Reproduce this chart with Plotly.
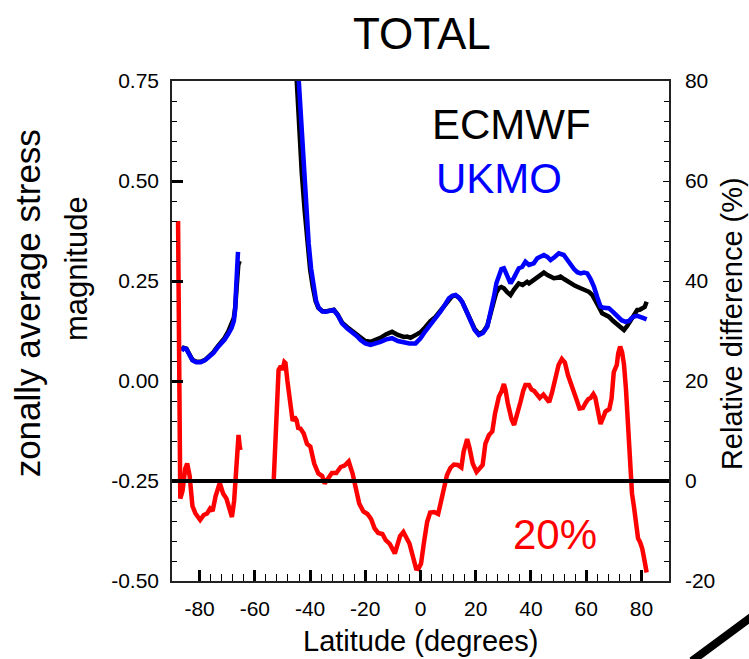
import plotly.graph_objects as go

# ---------------- data ----------------
# ECMWF zonally averaged stress magnitude (left axis)
ecmwf_lat = [-86.5, -85.8, -84.8, -83.8, -82.6, -81.2, -79.6, -78.0, -76.4, -75.0, -73.6, -72.3,
             -71.0, -69.6, -68.6, -67.6, -67.1, -66.6, -66.0, -65.5,
             None,
             -46.0, -44.9, -43.9, -43.0, -42.0, -41.0, -40.0, -39.0, -38.0, -37.0, -35.6, -34.4,
             -33.0, -31.4, -30.0, -28.4, -26.6, -24.7, -23.0, -21.7, -20.0, -18.1, -16.3, -14.5,
             -12.4, -10.3, -8.2, -6.0, -4.8, -3.6, -1.5, 0.0, 1.8, 3.6, 5.4, 7.2, 8.8, 10.3,
             11.5, 12.7, 14.0, 15.1, 16.6, 18.1, 19.6, 21.1, 22.6, 24.2, 25.4, 26.6, 27.5, 28.4,
             29.3, 30.2, 31.4, 32.6, 33.8, 35.6, 37.0, 38.6, 39.3, 41.0, 42.3, 43.5, 44.7, 46.0,
             47.1, 48.3, 49.5, 50.7, 52.0, 53.1, 54.3, 56.0, 58.0, 59.5, 61.0, 62.2, 63.4, 64.6,
             65.8, 67.0, 68.2, 69.8, 71.3, 72.5, 73.7, 74.9, 76.1, 77.3, 78.5, 79.4, 80.3, 81.2,
             81.9]
ecmwf_val = [0.077, 0.083, 0.081, 0.066, 0.053, 0.048, 0.048, 0.053, 0.062, 0.072, 0.085, 0.095,
             0.107, 0.124, 0.140, 0.158, 0.185, 0.255, 0.290, 0.300,
             None,
             0.90, 0.75, 0.62, 0.52, 0.43, 0.35, 0.28, 0.235, 0.200, 0.183, 0.175, 0.174,
             0.177, 0.178, 0.166, 0.146, 0.135, 0.125, 0.115, 0.108, 0.100, 0.098, 0.102, 0.108,
             0.117, 0.123, 0.115, 0.110, 0.111, 0.108, 0.116, 0.122, 0.135, 0.150, 0.160, 0.175,
             0.190, 0.205, 0.212, 0.214, 0.208, 0.198, 0.176, 0.153, 0.130, 0.118, 0.122, 0.138,
             0.165, 0.200, 0.222, 0.232, 0.235, 0.232, 0.222, 0.215, 0.228, 0.244, 0.240, 0.248,
             0.244, 0.2525, 0.261, 0.265, 0.271, 0.265, 0.260, 0.257, 0.258, 0.261, 0.255, 0.250,
             0.244, 0.238, 0.232, 0.228, 0.223, 0.215, 0.2025, 0.185, 0.169, 0.165, 0.161, 0.150,
             0.140, 0.132, 0.1275, 0.138, 0.1525, 0.168, 0.1775, 0.178, 0.182, 0.185, 0.198]

# UKMO zonally averaged stress magnitude (left axis)
ukmo_lat = [-86.5, -85.8, -84.8, -83.8, -82.6, -81.2, -79.6, -78.0, -76.4, -75.0, -73.6, -72.3,
            -71.0, -69.6, -68.4, -67.6, -67.1, -66.8, -66.4, -66.1,
            None,
            -45.4, -44.1, -43.2, -42.3, -41.4, -40.5, -39.6, -38.7, -37.8, -36.8, -35.6, -34.4,
            -33.0, -31.4, -30.0, -28.4, -26.6, -24.7, -23.0, -21.7, -20.0, -18.1, -16.3, -14.5,
            -12.4, -10.3, -8.2, -6.0, -4.0, -1.8, 0.0, 1.8, 3.6, 5.4, 7.2, 8.8, 10.3, 11.5, 12.7,
            14.0, 15.1, 16.6, 18.1, 19.6, 21.1, 22.6, 24.2, 25.4, 26.6, 27.5, 28.4, 29.3, 30.2,
            31.4, 32.6, 33.8, 35.0, 35.6, 36.8, 38.0, 39.3, 41.0, 42.3, 43.5, 44.7, 46.0, 47.1,
            48.6, 50.1, 51.9, 53.1, 54.3, 55.6, 56.8, 58.0, 59.2, 60.4, 61.6, 62.8, 64.0, 65.2,
            66.4, 68.2, 69.8, 71.3, 72.8, 74.3, 75.5, 76.4, 77.3, 78.5, 79.7, 80.8, 81.9]
ukmo_val = [0.075, 0.082, 0.080, 0.065, 0.052, 0.047, 0.047, 0.052, 0.060, 0.070, 0.083, 0.092,
            0.103, 0.118, 0.133, 0.150, 0.180, 0.230, 0.290, 0.323,
            None,
            0.90, 0.75, 0.62, 0.511, 0.42, 0.344, 0.28, 0.236, 0.200, 0.182, 0.174, 0.173,
            0.176, 0.1775, 0.165, 0.144, 0.132, 0.123, 0.112, 0.1025, 0.094, 0.090, 0.093, 0.098,
            0.104, 0.107, 0.100, 0.097, 0.094, 0.094, 0.107, 0.125, 0.140, 0.155, 0.173, 0.190,
            0.207, 0.213, 0.215, 0.208, 0.198, 0.175, 0.1525, 0.128, 0.115, 0.120, 0.136, 0.170,
            0.211, 0.245, 0.265, 0.280, 0.282, 0.262, 0.244, 0.258, 0.275, 0.282, 0.285, 0.298,
            0.290, 0.294, 0.307, 0.310, 0.315, 0.310, 0.3025, 0.310, 0.319, 0.315, 0.302, 0.290,
            0.280, 0.272, 0.269, 0.271, 0.269, 0.255, 0.236, 0.210, 0.186, 0.183, 0.182, 0.172,
            0.161, 0.152, 0.148, 0.150, 0.157, 0.161, 0.163, 0.161, 0.157, 0.154]

# Relative difference in % (right axis)
rel_lat = [-87.8, -87.4, -87.0, -86.2, -85.2, -84.5, -83.6, -82.6, -81.5, -79.8, -78.5, -77.3,
           -76.2, -75.3, -74.2, -72.7, -71.5, -70.3, -69.2, -68.3, -67.5, -66.8, -66.3, -65.9,
           -65.5, -65.2,
           None,
           -53.2, -52.4, -51.4, -50.6, -50.0, -49.3, -48.9, -48.2, -47.4, -46.3, -45.6, -44.9,
           -44.3, -43.5, -42.3, -41.1, -39.9, -38.5, -37.0, -35.6, -34.7, -33.4, -32.1, -30.5,
           -28.9, -27.5, -26.0, -24.6, -23.5, -22.2, -20.7, -19.2, -17.9, -16.6, -15.3, -13.8,
           -12.6, -11.1, -9.3, -8.5, -7.4, -6.2, -5.1, -4.0, -2.8, -1.6, -0.8, 0.2, 1.2, 2.4,
           3.5, 5.0, 6.4, 7.6, 8.6, 9.6, 10.8, 12.1, 13.5, 14.8, 15.6, 16.9, 17.8, 18.9, 20.3,
           21.5, 22.5, 23.5, 24.8, 26.0, 27.0, 28.4, 29.4, 30.2, 30.8, 31.6, 33.0, 33.9, 35.0,
           36.2, 37.2, 38.0, 39.3, 40.2, 41.2, 42.3, 43.2, 44.5, 45.7, 46.6, 47.6, 48.9, 50.0,
           51.2, 52.3, 53.4, 55.0, 56.5, 57.6, 58.8, 59.8, 60.8, 61.6, 62.6, 63.3, 64.4, 65.2,
           66.1, 67.0, 68.4, 69.2, 70.0, 71.1, 71.6, 72.3, 73.0, 73.7, 74.4, 75.1, 76.0, 76.6,
           77.3, 78.1, 78.8, 79.5, 80.3, 81.0, 81.9]
rel_val = [52.0, 10.0, -3.5, -2.0, 2.5, 3.5, 1.0, -5.0, -6.5, -7.8, -6.8, -6.5,
           -5.5, -6.0, -3.0, -0.4, -2.5, -3.5, -6.0, -7.2, -4.0, 3.0, 6.5, 9.2,
           7.0, 6.2,
           None,
           -0.4, 10.0, 22.2, 23.0, 22.2, 23.8, 23.6, 20.0, 16.0, 12.0, 12.8, 12.2,
           10.6, 10.5, 9.5, 7.4, 6.9, 3.5, 1.5, 1.0, -0.5, 0.6, 1.6, 1.6,
           2.8, 3.1, 3.9, 1.5, -1.8, -4.5, -6.1, -6.6, -7.6, -9.5, -10.4, -10.6,
           -11.8, -12.6, -14.5, -12.8, -11.0, -10.2, -11.2, -12.5, -15.0, -17.5, -17.6, -16.5,
           -12.5, -8.2, -6.3, -6.2, -6.6, -3.5, -0.5, 1.2, 2.6, 3.3, 3.2, 2.7, 5.8, 8.4, 6.5,
           3.5, 1.8, 2.5, 3.2, 7.5, 9.2, 9.9, 13.5, 16.9, 18.0, 19.4, 18.2, 15.6, 12.3, 11.2,
           13.2, 15.8, 18.0, 19.2, 19.2, 18.3, 18.0, 17.0, 16.6, 17.3, 16.4, 15.8, 17.6, 20.9,
           23.2, 24.4, 23.7, 21.2, 18.9, 16.3, 14.5, 14.6, 15.6, 16.4, 16.6, 17.4, 16.7, 13.5,
           11.4, 12.6, 13.9, 14.4, 16.5, 21.8, 23.2, 25.5, 26.9, 25.8, 23.3, 18.5, 10.5, 1.5,
           -2.5, -5.1, -8.3, -11.5, -12.2, -13.5, -15.5, -18.3]

# ticks
x_tickvals = [-80, -60, -40, -20, 0, 20, 40, 60, 80]
x_ticktext = ["-80", "-60", "-40", "-20", "0", "20", "40", "60", "80"]
x_minor = [v for v in range(-76, 80, 4) if v % 20 != 0]
y_tickvals = [-0.50, -0.25, 0.00, 0.25, 0.50, 0.75]
y_ticktext = ["-0.50", "-0.25", "0.00", "0.25", "0.50", "0.75"]
y_minor = [round(-0.50 + 0.05 * i, 2) for i in range(26)]
y2_tickvals = [-20, 0, 20, 40, 60, 80]
y2_ticktext = ["-20", "0", "20", "40", "60", "80"]
y2_minor = list(range(-20, 81, 4))
ref_line_pct = 0

FONT = "Liberation Sans, Arial, Helvetica, sans-serif"

fig = go.Figure()

fig.add_trace(go.Scatter(x=rel_lat, y=rel_val, yaxis="y2", mode="lines",
                         line=dict(color="#ff0000", width=4.5), connectgaps=False,
                         showlegend=False, hoverinfo="skip"))
fig.add_trace(go.Scatter(x=[-90, 90], y=[ref_line_pct, ref_line_pct], yaxis="y2", mode="lines",
                         line=dict(color="black", width=4), showlegend=False, hoverinfo="skip"))
fig.add_trace(go.Scatter(x=ecmwf_lat, y=ecmwf_val, mode="lines",
                         line=dict(color="black", width=4.5), connectgaps=False,
                         showlegend=False, name="ECMWF"))
fig.add_trace(go.Scatter(x=ukmo_lat, y=ukmo_val, mode="lines",
                         line=dict(color="#0000ff", width=4.5), connectgaps=False,
                         showlegend=False, name="UKMO"))

axis_common = dict(showgrid=False, zeroline=False, showline=True, linecolor="#222222",
                   linewidth=1.5, tickcolor="black", tickfont=dict(family=FONT, size=21, color="black"))

fig.update_layout(
    width=749, height=659,
    margin=dict(l=172, r=80, t=81, b=78, pad=0),
    paper_bgcolor="white", plot_bgcolor="white",
    font=dict(family=FONT, color="black"),
    xaxis=dict(range=[-90, 90], tickmode="array", tickvals=x_tickvals, ticktext=x_ticktext,
               ticks="inside", ticklen=11, tickwidth=3, mirror=True, ticklabelstandoff=8,
               minor=dict(tickmode="array", tickvals=x_minor, ticks="inside", ticklen=7,
                          tickwidth=1, tickcolor="black", showgrid=False),
               **axis_common),
    yaxis=dict(range=[-0.5, 0.75], tickmode="array", tickvals=y_tickvals, ticktext=y_ticktext,
               ticks="inside", ticklen=11, tickwidth=3, mirror=True, ticklabelstandoff=7,
               minor=dict(tickmode="array", tickvals=y_minor, ticks="inside", ticklen=5,
                          tickwidth=1, tickcolor="black", showgrid=False),
               **axis_common),
    yaxis2=dict(range=[-20, 80], overlaying="y", side="right", tickmode="array",
                tickvals=y2_tickvals, ticktext=y2_ticktext, ticks="inside", ticklen=6, tickwidth=1,
                ticklabelstandoff=10,
                minor=dict(tickmode="array", tickvals=y2_minor, ticks="inside", ticklen=5,
                           tickwidth=1, tickcolor="black", showgrid=False),
                **axis_common),
    showlegend=False,
)

ann = [
    dict(text="TOTAL", x=0.503, y=1.094, font=dict(size=44)),
    dict(text="zonally average stress", x=-0.291, y=0.556, textangle=-90, font=dict(size=35)),
    dict(text="magnitude", x=-0.193, y=0.624, textangle=-90, font=dict(size=31)),
    dict(text="Relative difference (%)", x=1.127, y=0.514, textangle=-90, font=dict(size=29)),
    dict(text="Latitude (degrees)", x=0.499, y=-0.12, font=dict(size=29)),
    dict(text="ECMWF", x=0.519, y=0.912, xanchor="left", font=dict(size=42, color="black")),
    dict(text="UKMO", x=0.527, y=0.805, xanchor="left", font=dict(size=42, color="#0000ff")),
    dict(text="20%", x=0.682, y=0.094, xanchor="left", font=dict(size=42, color="#ff0000")),
]
for a in ann:
    base = dict(xref="paper", yref="paper", showarrow=False, xanchor="center", yanchor="middle")
    base.update(a)
    f = dict(family=FONT, color="black")
    f.update(a.get("font", {}))
    base["font"] = f
    fig.add_annotation(**base)

fig.add_shape(type="line", xref="paper", yref="paper", x0=1.046, y0=-0.16, x1=1.19, y1=-0.054,
              line=dict(color="black", width=8))

fig.write_html("out.html", config={"displayModeBar": False},
               post_script="document.body.style.margin='0';")
